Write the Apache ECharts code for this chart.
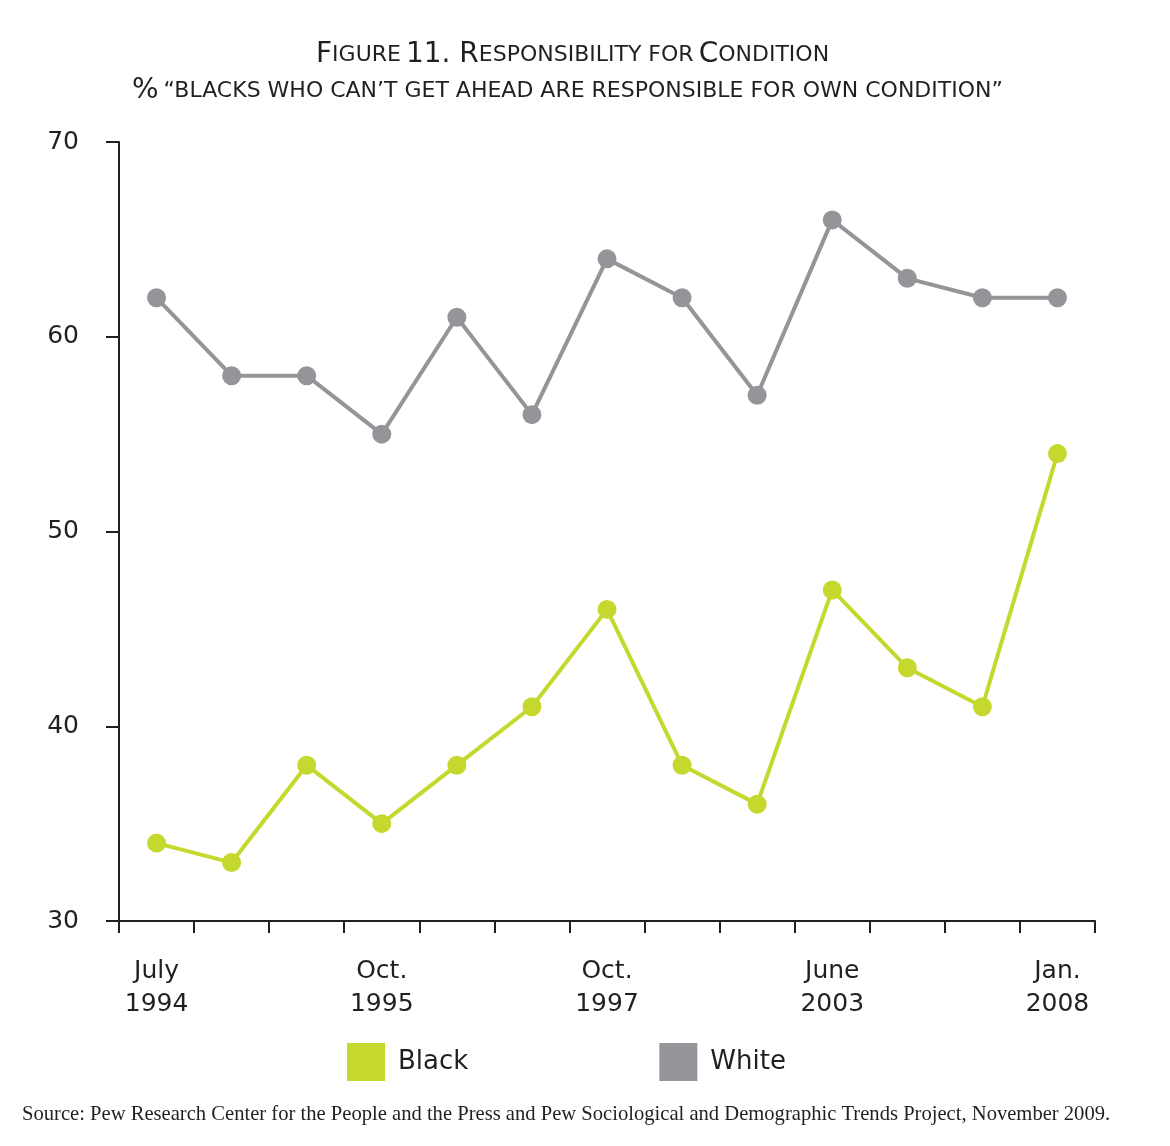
<!DOCTYPE html>
<html>
<head>
<meta charset="utf-8">
<script src="https://cdn.jsdelivr.net/npm/echarts@6/dist/echarts.min.js"></script>
<style>
  html, body { margin: 0; padding: 0; background: #fff; }
  #container { width: 1170px; height: 1146px; }
</style>
</head>
<body>
<div id="container"></div>
<script>
// survey dates (only every third one is labelled)
var categories = ['July\n1994', '', '', 'Oct.\n1995', '', '', 'Oct.\n1997', '', '', 'June\n2003', '', '', 'Jan.\n2008'];
var blackValues = [34, 33, 38, 35, 38, 41, 46, 38, 36, 47, 43, 41, 54];
var whiteValues = [62, 58, 58, 55, 61, 56, 64, 62, 57, 66, 63, 62, 62];
var yTicks = [30, 40, 50, 60, 70];

var labelFont = '"DejaVu Sans", "Open Sans", sans-serif';

function DrawChart() {
    var dom = document.getElementById("container");
    var myChart = echarts.init(dom);
    var capStyle = {
        b: { fontFamily: labelFont, fontWeight: 'normal', fontSize: 28, color: '#231f20' },
        s: { fontFamily: labelFont, fontWeight: 'normal', fontSize: 22, color: '#231f20' }
    };
    var option = {
        animation: false,
        backgroundColor: '#fff',
        title: [{
            left: 311,
            top: 36,
            text: '{b|F}{s|IGURE} {b|11. R}{s|ESPONSIBILITY FOR} {b|C}{s|ONDITION}',
            textStyle: { fontWeight: 'normal', rich: capStyle }
        }, {
            left: 127,
            top: 72,
            text: '{b|%} {s|“BLACKS WHO CAN’T GET AHEAD ARE RESPONSIBLE FOR OWN CONDITION”}',
            textStyle: { fontWeight: 'normal', rich: capStyle }
        }, {
            left: 17,
            top: 1099,
            text: 'Source: Pew Research Center for the People and the Press and Pew Sociological and Demographic Trends Project, November 2009.',
            textStyle: {
                fontFamily: '"Liberation Serif", "DejaVu Serif", serif',
                fontWeight: 'normal',
                fontSize: 20.6,
                color: '#231f20'
            }
        }],
        legend: {
            left: 342,
            top: 1038,
            icon: 'rect',
            itemWidth: 38,
            itemHeight: 38,
            itemGap: 191,
            textStyle: {
                fontFamily: labelFont,
                fontSize: 26,
                color: '#231f20',
                padding: [0, 0, 0, 8]
            },
            data: ['Black', 'White']
        },
        grid: {
            left: 119,
            right: 75,
            top: 142,
            bottom: 225,
            containLabel: false
        },
        xAxis: {
            type: 'category',
            boundaryGap: true,
            data: categories,
            axisLine: { lineStyle: { color: '#231f20', width: 2 } },
            axisTick: { show: true, length: 12, inside: false, alignWithLabel: false, interval: 0,
                        lineStyle: { color: '#231f20', width: 2 } },
            axisLabel: {
                interval: 0,
                margin: 34,
                fontFamily: labelFont,
                fontSize: 25,
                lineHeight: 33,
                color: '#231f20'
            }
        },
        yAxis: {
            type: 'value',
            min: yTicks[0],
            max: yTicks[yTicks.length - 1],
            interval: 10,
            splitLine: { show: false },
            axisLine: { show: true, lineStyle: { color: '#231f20', width: 2 } },
            axisTick: { show: true, length: 13, lineStyle: { color: '#231f20', width: 2 } },
            axisLabel: {
                margin: 40,
                fontFamily: labelFont,
                fontSize: 25,
                color: '#231f20'
            }
        },
        series: [{
            name: 'Black',
            type: 'line',
            data: blackValues,
            symbol: 'circle',
            symbolSize: 19,
            color: '#c4d82e',
            lineStyle: { width: 4, color: '#c4d82e' },
            itemStyle: { color: '#c4d82e' }
        }, {
            name: 'White',
            type: 'line',
            data: whiteValues,
            symbol: 'circle',
            symbolSize: 19,
            color: '#939598',
            lineStyle: { width: 4, color: '#939598' },
            itemStyle: { color: '#939598' }
        }]
    };
    myChart.setOption(option, true);
}

DrawChart();
</script>
</body>
</html>
